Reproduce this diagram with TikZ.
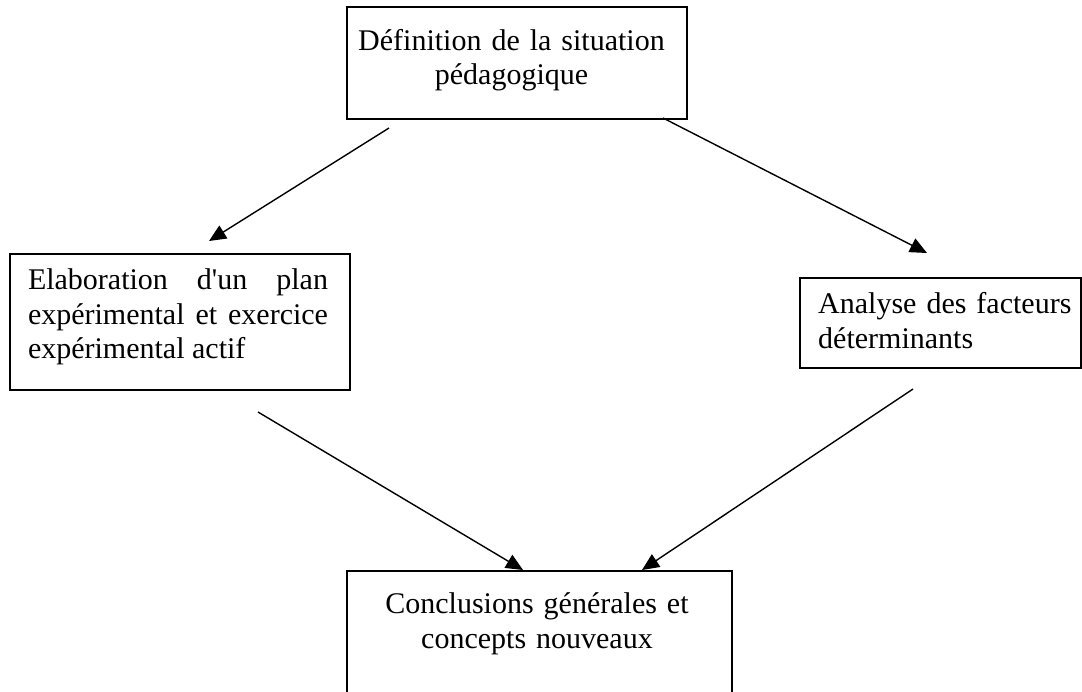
\documentclass[tikz,border=0pt]{standalone}
\usepackage{fontspec}
\setmainfont{Liberation Serif}
\usetikzlibrary{arrows.meta, positioning}

\begin{document}
\begin{tikzpicture}[
    x=1pt, y=-1pt,
    frame/.style={rectangle, draw=black, line width=1.5pt, inner sep=0pt, anchor=north west},
    txt/.style={inner sep=0pt, anchor=north, font=\fontsize{30}{34.5}\selectfont,
                execute at begin node={\tolerance=10000\hyphenpenalty=10000}},
    arr/.style={-{Triangle[length=17pt, width=15pt]}, line width=1.4pt}
]
\useasboundingbox (0,0) rectangle (1082,691);
\clip (0,0) rectangle (1082,691);

% boxes
\node[frame, minimum width=340pt, minimum height=112pt] (defi) at (346,6) {};
\node[frame, minimum width=340pt, minimum height=136pt] (plan) at (9,253) {};
\node[frame, minimum width=281pt, minimum height=90pt] (anal) at (799,277) {};
\node[frame, minimum width=385pt, minimum height=200pt] (conc) at (346,570) {};

% texts
\node[txt, text width=340pt, align=center] (defi-t) at (511.5,29) {Définition de la situation\\pédagogique};
\node[txt, text width=300pt, align=justify] (plan-t) at (178,268.5) {Elaboration d\textquotesingle un plan expérimental et exercice expérimental actif};
\node[txt, text width=260pt, align=left, anchor=north west] (anal-t) at (818,292.5) {Analyse des facteurs\\déterminants};
\node[txt, text width=360pt, align=center] (conc-t) at (537,592.5) {Conclusions générales et\\concepts nouveaux};

% arrow ends
\coordinate (defi-l) at (389,128);
\coordinate (plan-n) at (209,241);
\coordinate (defi-r) at (663,118);
\coordinate (anal-n) at (927,253);
\coordinate (plan-s) at (258,412);
\coordinate (conc-l) at (523,570);
\coordinate (anal-s) at (913,389);
\coordinate (conc-r) at (642,570);

\draw[arr] (defi-l) -- (plan-n);
\draw[arr] (defi-r) -- (anal-n);
\draw[arr] (plan-s) -- (conc-l);
\draw[arr] (anal-s) -- (conc-r);
\end{tikzpicture}
\end{document}
